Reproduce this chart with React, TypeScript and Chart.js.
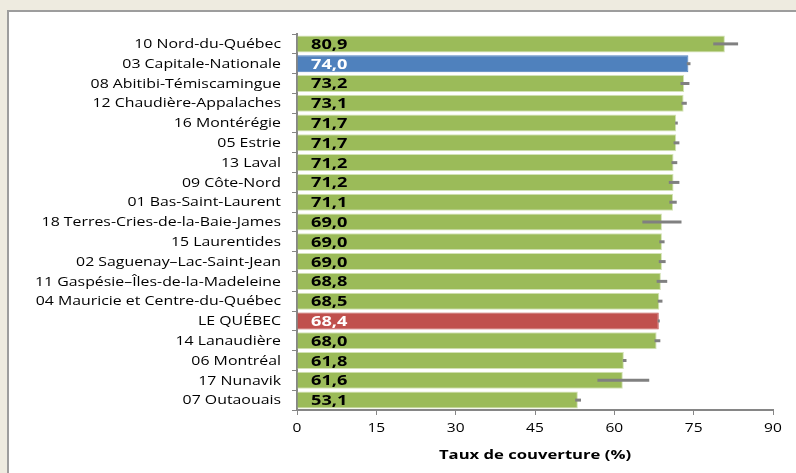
import React, { useEffect, useRef } from "react";
import { Chart, registerables } from "chart.js";

Chart.register(...registerables);

const categories = [
  "10 Nord-du-Québec",
  "03 Capitale-Nationale",
  "08 Abitibi-Témiscamingue",
  "12 Chaudière-Appalaches",
  "16 Montérégie",
  "05 Estrie",
  "13 Laval",
  "09 Côte-Nord",
  "01 Bas-Saint-Laurent",
  "18 Terres-Cries-de-la-Baie-James",
  "15 Laurentides",
  "02 Saguenay–Lac-Saint-Jean",
  "11 Gaspésie–Îles-de-la-Madeleine",
  "04 Mauricie et Centre-du-Québec",
  "LE QUÉBEC",
  "14 Lanaudière",
  "06 Montréal",
  "17 Nunavik",
  "07 Outaouais",
];

const values = [80.9, 74.0, 73.2, 73.1, 71.7, 71.7, 71.2, 71.2, 71.1, 69.0, 69.0, 69.0, 68.8, 68.5, 68.4, 68.0, 61.8, 61.6, 53.1];

const errLow = [78.7, 73.7, 72.5, 72.7, 71.5, 71.2, 70.8, 70.3, 70.4, 65.3, 68.5, 68.4, 68.0, 68.2, 68.2, 67.6, 61.6, 56.8, 52.6];
const errHigh = [83.4, 74.4, 74.2, 73.7, 72.0, 72.3, 71.9, 72.3, 71.8, 72.7, 69.5, 69.7, 70.0, 69.1, 68.6, 68.7, 62.3, 66.6, 53.7];

const highlightBlue = "03 Capitale-Nationale";
const highlightRed = "LE QUÉBEC";

const xTicks = [0, 15, 30, 45, 60, 75, 90];
const xTitle = "Taux de couverture (%)";

const GREEN = "#9BBB59";
const BLUE = "#4F81BD";
const RED = "#C0504D";
const FONT = "'Open Sans', 'DejaVu Sans', sans-serif";

function fmt(v: number) {
  return v.toFixed(1).replace(".", ",");
}

function stretchedText(ctx: any, text: string, x: number, y: number, align: string, sx: number, font: string, color: string) {
  ctx.save();
  ctx.font = font;
  ctx.fillStyle = color;
  ctx.textAlign = align;
  ctx.textBaseline = "middle";
  ctx.translate(x, y);
  ctx.scale(sx, 1);
  ctx.fillText(text, 0, 0);
  ctx.restore();
}

const errorBarPlugin = {
  id: "errorBars",
  afterDatasetsDraw(chart: any) {
    const ctx = chart.ctx;
    const meta = chart.getDatasetMeta(0);
    const xs = chart.scales.x;
    ctx.save();
    ctx.strokeStyle = "#808080";
    ctx.lineWidth = 3;
    meta.data.forEach((bar: any, i: number) => {
      const y = bar.y;
      ctx.beginPath();
      ctx.moveTo(xs.getPixelForValue(errLow[i]), y);
      ctx.lineTo(xs.getPixelForValue(errHigh[i]), y);
      ctx.stroke();
    });
    ctx.restore();
  },
};

const textPlugin = {
  id: "texts",
  afterDraw(chart: any) {
    const ctx = chart.ctx;
    const meta = chart.getDatasetMeta(0);
    const xs = chart.scales.x;
    const ys = chart.scales.y;
    const left = chart.chartArea.left;
    const bottom = chart.chartArea.bottom;
    // value labels inside bars
    meta.data.forEach((bar: any, i: number) => {
      const c = categories[i];
      const col = c === highlightBlue || c === highlightRed ? "#FFFFFF" : "#000000";
      stretchedText(ctx, fmt(values[i]), left + 14, bar.y + 1, "left", 1.3, `bold 14px ${FONT}`, col);
    });
    // category labels
    categories.forEach((c, i) => {
      const y = ys.getPixelForValue(i);
      stretchedText(ctx, c, left - 16, y + 0.5, "right", 1.22, `13px ${FONT}`, "#000000");
    });
    // x tick labels
    xTicks.forEach((v) => {
      stretchedText(ctx, String(v), xs.getPixelForValue(v), bottom + 18, "center", 1.15, `13.5px ${FONT}`, "#000000");
    });
    // x title
    stretchedText(ctx, xTitle, (xs.left + xs.right) / 2, bottom + 45, "center", 1.28, `bold 13px ${FONT}`, "#000000");
  },
};

export default function App() {
  const ref = useRef<HTMLCanvasElement | null>(null);

  useEffect(() => {
    if (!ref.current) return;
    const colors = categories.map((c) => (c === highlightBlue ? BLUE : c === highlightRed ? RED : GREEN));
    const borders = categories.map((c) => (c === highlightBlue ? BLUE : c === highlightRed ? RED : "#D3E2B6"));
    const chart = new Chart(ref.current, {
      type: "bar",
      data: {
        labels: categories,
        datasets: [
          {
            data: values,
            backgroundColor: colors,
            borderColor: borders,
            borderWidth: 1,
            barPercentage: 0.86,
            categoryPercentage: 1,
          },
        ],
      },
      options: {
        indexAxis: "y",
        animation: false,
        responsive: false,
        maintainAspectRatio: false,
        layout: { padding: { top: 34, right: 23, left: 0, bottom: 0 } },
        plugins: {
          legend: { display: false },
          tooltip: { enabled: false },
        },
        scales: {
          x: {
            min: 0,
            max: 90,
            afterBuildTicks: (s: any) => {
              s.ticks = xTicks.map((v) => ({ value: v }));
            },
            afterFit: (s: any) => {
              s.height = 63;
            },
            ticks: { display: false },
            grid: {
              drawOnChartArea: false,
              drawTicks: true,
              tickLength: 5,
              color: "#868686",
              lineWidth: 1,
            },
            border: { color: "#868686", width: 2 },
          },
          y: {
            afterFit: (s: any) => {
              s.width = 297;
            },
            ticks: { display: false, autoSkip: false },
            grid: {
              offset: true,
              drawOnChartArea: false,
              drawTicks: true,
              tickLength: 5,
              color: "#868686",
              lineWidth: 1,
            },
            border: { color: "#868686", width: 2 },
          },
        },
      } as any,
      plugins: [errorBarPlugin, textPlugin],
    });
    return () => chart.destroy();
  }, []);

  return (
    <div style={{ position: "fixed", left: 0, top: 0, width: 796, height: 473, background: "#EEEBE0", overflow: "hidden" }}>
      <div
        style={{
          position: "absolute",
          left: 7,
          top: 10,
          width: 820,
          height: 500,
          background: "#FFFFFF",
          borderLeft: "2px solid #9D9D9D",
          borderTop: "2px solid #9D9D9D",
        }}
      />
      <canvas ref={ref} width={796} height={473} style={{ position: "absolute", left: 0, top: 0, width: 796, height: 473 }} />
    </div>
  );
}
